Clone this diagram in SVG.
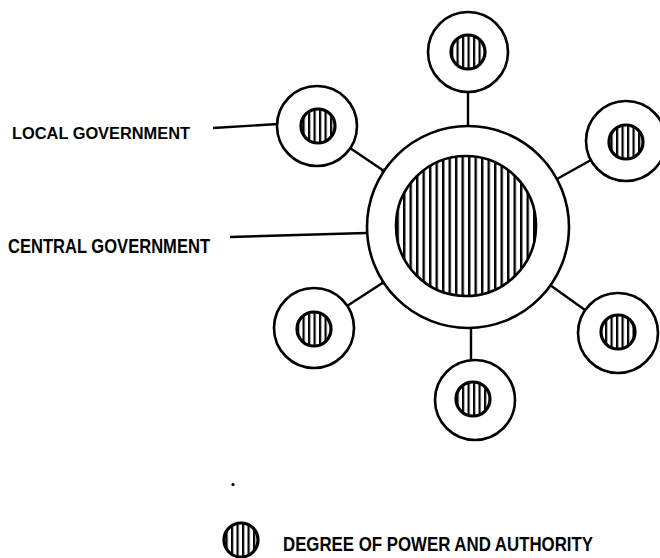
<svg xmlns="http://www.w3.org/2000/svg" width="660" height="558" viewBox="0 0 660 558">
<style>
.ring{fill:#fff;stroke:#000;stroke-width:2.6}
.core{fill:url(#hatch);stroke:#000;stroke-width:2.6}
.score{fill:url(#hatchS);stroke:#000;stroke-width:3.2}
.conn{stroke:#000;stroke-width:2.4;fill:none}
.lbl{font-family:"Liberation Sans Narrow","Liberation Sans",Arial,sans-serif;font-weight:bold;fill:#000}
</style>
<defs>
<pattern id="hatch" patternUnits="userSpaceOnUse" width="6.5" height="10">
<rect width="6.5" height="10" fill="#fff"/>
<rect x="0" y="0" width="2.4" height="10" fill="#000"/>
</pattern>
<pattern id="hatchS" patternUnits="userSpaceOnUse" width="5.5" height="10">
<rect width="5.5" height="10" fill="#fff"/>
<rect x="0" y="0" width="2.2" height="10" fill="#000"/>
</pattern>
</defs>
<rect width="660" height="558" fill="#fff"/>

<g id="connectors">
<line class="conn" x1="468" y1="92" x2="468" y2="125"/>
<line class="conn" x1="471" y1="328" x2="471" y2="360"/>
<line class="conn" x1="350" y1="148" x2="384" y2="171"/>
<line class="conn" x1="347" y1="306" x2="384" y2="282"/>
<line class="conn" x1="591" y1="160" x2="557" y2="179"/>
<line class="conn" x1="585" y1="310" x2="550" y2="285"/>
<circle cx="384" cy="171" r="2.6" fill="#000"/>
<circle cx="384" cy="282" r="2.6" fill="#000"/>
<line class="conn" x1="213" y1="128" x2="278" y2="124"/>
<line class="conn" x1="230" y1="237" x2="366" y2="233"/>
</g>

<g id="central-government">
<circle class="ring" cx="468" cy="227" r="101"/>
<circle class="core" cx="466" cy="226" r="70"/>
</g>

<g id="local-top">
<circle class="ring" cx="468" cy="52" r="40"/>
<circle class="score" cx="468" cy="52" r="17"/>
</g>
<g id="local-upper-left">
<circle class="ring" cx="317" cy="126" r="40"/>
<circle class="score" cx="318" cy="126" r="17"/>
</g>
<g id="local-upper-right">
<circle class="ring" cx="626" cy="141" r="40"/>
<circle class="score" cx="626" cy="142" r="17"/>
</g>
<g id="local-lower-left">
<circle class="ring" cx="314" cy="328" r="40"/>
<circle class="score" cx="314" cy="329" r="17"/>
</g>
<g id="local-bottom">
<circle class="ring" cx="475" cy="400" r="40"/>
<circle class="score" cx="473" cy="399" r="17"/>
</g>
<g id="local-lower-right">
<circle class="ring" cx="618" cy="333" r="40"/>
<circle class="score" cx="618" cy="332" r="17"/>
</g>

<g id="labels">
<text class="lbl" x="12" y="138.5" font-size="16" textLength="178" lengthAdjust="spacingAndGlyphs">LOCAL GOVERNMENT</text>
<text class="lbl" x="8" y="253" font-size="20" textLength="202" lengthAdjust="spacingAndGlyphs">CENTRAL GOVERNMENT</text>
</g>

<circle cx="233" cy="484.5" r="1.6" fill="#000"/>

<g id="legend">
<circle class="score" cx="241" cy="540" r="17"/>
<text class="lbl" x="283" y="551" font-size="20" textLength="310" lengthAdjust="spacingAndGlyphs">DEGREE OF POWER AND AUTHORITY</text>
</g>
</svg>
